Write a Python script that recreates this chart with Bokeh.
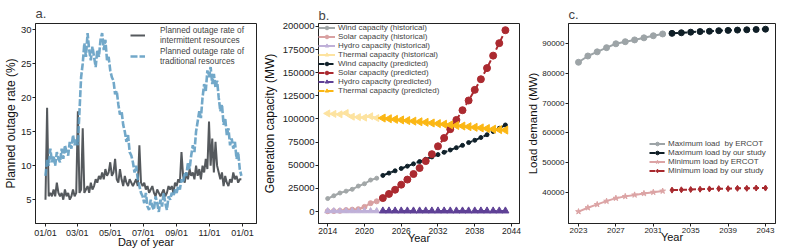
import math
from bokeh.plotting import figure
from bokeh.models import FixedTicker, Legend, LegendItem, Range1d, BasicTickFormatter
from bokeh.layouts import row
from bokeh.embed import file_html
from bokeh.resources import INLINE

FONT = "Liberation Sans"

# ---------------- Panel a data (every 3rd day of the year) ----------------
days_a = list(range(0, 366, 3))
intermittent = [
    5, 18.5, 5.5, 6, 5.5, 6.5, 5.5, 7.5, 6, 5.5, 6, 5, 6.5, 5.5, 6, 5, 5.5, 6.5, 5.5, 6,
    18, 6, 6.5, 15.5,
    6, 6.5, 7, 6, 7.5, 6.5, 7, 8, 7.5, 8.5, 8, 9, 8, 9.5, 8.5,
    9, 10.5, 8.5, 9, 11, 8, 7.5, 9.5, 8, 7, 8.5, 7.5, 7, 8, 7.5,
    7, 7.5, 8, 7, 13, 7.5, 7,
    7.5, 6.5, 7, 6, 6.5, 7, 6, 5.5, 6.5, 6, 5.5, 6, 6.5, 5.5, 6, 7, 6.5, 7, 6, 7.5, 7,
    8, 7.5, 12, 8.5, 7.5, 9, 8, 9.5, 8.5,
    9, 8, 10, 8.5, 9.5, 8, 10, 9, 11, 9.5,
    16.5, 10, 14, 9, 13.5, 10, 9,
    8, 9, 7, 8.5, 7.5, 7, 8, 7.5, 9, 8, 8.5, 7.5, 8, 8,
]
traditional = [
    8.5, 11, 10, 12.5, 10.5, 11.5, 10, 12, 11, 10.5, 12.5, 11, 13, 12, 11.5, 13.5, 12.5, 14.5, 13, 14,
    13, 18, 23, 25,
    28, 26, 29.5, 27, 25.5, 27.5, 26, 24.5, 27, 26, 28.5, 29.5, 27, 28.5, 25.5,
    26, 24, 23, 22.5, 20.5, 21, 19, 17.5, 18, 16, 15, 13.5, 14.5, 12, 11.5,
    10.5, 9, 10, 8, 7, 6, 5.5,
    4.5, 6, 4, 3.5, 5, 4, 3.5, 5.5, 4.5, 3.2, 5, 4, 6, 4.5, 3.5, 5.5, 5, 6, 5.5, 6.5, 6,
    7, 6.5, 8, 7.5, 9, 8.5, 10.5, 9.5, 11.5,
    13, 12, 15, 16.5, 18, 17, 20, 22, 21, 24,
    23, 24.5, 22, 23.5, 21.5, 22.5, 20,
    18, 19, 16, 17, 14.5, 15.5, 13, 14, 12.5, 13.5, 11, 12, 9.5, 8.5,
]
a_ticks = [0, 59, 120, 181, 243, 304, 365]
a_tick_labels = ["01/01", "03/01", "05/01", "07/01", "09/01", "11/01", "01/01"]

# ---------------- Panel b data ----------------
years_hist = [2014, 2015, 2016, 2017, 2018, 2019, 2020, 2021, 2022]
wind_hist = [14000, 17000, 20000, 22000, 24000, 27500, 30000, 34000, 36000]
solar_hist = [300, 500, 700, 1500, 2000, 2500, 5000, 9000, 11000]
hydro_hist = [500, 500, 500, 500, 500, 500, 500, 500, 500]
thermal_hist = [106000, 105500, 105000, 106500, 102500, 102000, 101500, 103000, 101000]

years_pred = list(range(2023, 2044))
wind_pred = [39000, 41500, 44000, 46500, 49000, 51500, 54000, 56500, 59000, 61500, 64000,
             66500, 69000, 71500, 74500, 77000, 80000, 83000, 86500, 90000, 93500]
solar_pred = [14500, 19000, 23500, 29000, 34500, 40500, 47000, 54500, 62000, 70500, 79500,
              89000, 99000, 109500, 120000, 131500, 143000, 155000, 168500, 182000, 196000]
hydro_pred = [600] * 21
thermal_pred = [101000, 100300, 99600, 99000, 98300, 97700, 97000, 96400, 95700, 95000, 94400,
                93700, 93000, 92400, 91700, 91000, 90400, 89700, 89000, 88500, 88000]

# ---------------- Panel c data ----------------
years_ercot = list(range(2023, 2033))
years_study = list(range(2033, 2044))
max_ercot = [83700, 85800, 87200, 88600, 89900, 90600, 91200, 91900, 92600, 93200]
max_study = [93400, 93600, 93800, 94000, 94100, 94300, 94400, 94500, 94600, 94700, 94800]
min_ercot = [33600, 34900, 36000, 37100, 38100, 38700, 39200, 39700, 40100, 40500]
min_study = [40800, 40900, 41000, 41100, 41200, 41300, 41300, 41400, 41400, 41500, 41500]


def style(p, xtick, ytick, xlab, ylab, title_standoff):
    p.outline_line_color = "#222222"
    p.outline_line_width = 1
    p.xgrid.visible = False
    p.ygrid.visible = False
    p.background_fill_color = "white"
    p.border_fill_color = "white"
    for ax, ts, ls in ((p.xaxis[0], xtick, xlab), (p.yaxis[0], ytick, ylab)):
        ax.axis_line_color = "#222222"
        ax.major_tick_out = 3
        ax.major_tick_in = 0
        ax.major_tick_line_color = "#222222"
        ax.minor_tick_line_color = None
        ax.major_label_text_font = FONT
        ax.major_label_text_font_size = ts
        ax.major_label_text_color = "#222222"
        ax.axis_label_text_font = FONT
        ax.axis_label_text_font_size = ls
        ax.axis_label_text_font_style = "normal"
        ax.axis_label_text_color = "#111111"
    p.xaxis.major_label_standoff = 1
    p.xaxis.axis_label_standoff = -5
    p.yaxis.major_label_standoff = 1
    p.title.text_font = FONT
    p.title.text_font_size = "13px"
    p.title.text_font_style = "normal"
    p.title.align = "left"
    p.title.standoff = title_standoff


FH = 200

# ---------------- Panel a ----------------
pa = figure(frame_width=221, frame_height=FH, output_backend="svg", toolbar_location=None,
            x_range=Range1d(-18.5, 391), y_range=Range1d(1.5, 30.9), title="a.",
            min_border_left=30, min_border_right=3, min_border_top=0, min_border_bottom=0)
ra1 = pa.line(days_a, intermittent, line_color="#55595d", line_width=2)
ra2 = pa.line(days_a, traditional, line_color="#5e9cc2", line_width=2.6, line_alpha=0.88,
              line_dash="7 2")
pa.xaxis.ticker = FixedTicker(ticks=a_ticks)
pa.xaxis.major_label_overrides = {t: l for t, l in zip(a_ticks, a_tick_labels)}
pa.yaxis.ticker = FixedTicker(ticks=[5, 10, 15, 20, 25, 30])
pa.xaxis.axis_label = "Day of year"
pa.yaxis.axis_label = "Planned outage rate (%)"
style(pa, "9px", "9.5px", "11px", "12px", 6)
pa.yaxis.axis_label_standoff = 0
leg_a = Legend(items=[
    LegendItem(label="Planned outage rate of\nintermittent resources", renderers=[ra1]),
    LegendItem(label="Planned outage rate of\ntraditional resources", renderers=[ra2]),
], location=(95, FH - 43), padding=0, margin=0, spacing=0, border_line_color=None,
    background_fill_alpha=0, label_text_font=FONT, label_text_font_size="8.3px",
    glyph_width=15, label_standoff=15, label_height=21, label_text_line_height=1.25)
pa.add_layout(leg_a)

# ---------------- Panel b ----------------
pb = figure(frame_width=201, frame_height=FH, output_backend="svg", toolbar_location=None,
            x_range=Range1d(2012.5, 2045.3), y_range=Range1d(-12970, 203240), title="b.",
            min_border_left=57, min_border_right=5, min_border_top=0, min_border_bottom=0)
series_b = [
    ("Wind capacity (historical)", years_hist, wind_hist, "#a2a7a8", "solid", "circle", 4),
    ("Solar capacity (historical)", years_hist, solar_hist, "#d9a1a2", "solid", "circle", 5),
    ("Hydro capacity (historical)", years_hist, hydro_hist, "#bfb0d8", "solid", "triangle", 6),
    ("Thermal capacity (historical)", years_hist, thermal_hist, "#fde3a0", "solid", "tri_left", 7),
    ("Wind capacity (predicted)", years_pred, wind_pred, "#10212a", "dashed", "circle", 4),
    ("Solar capacity (predicted)", years_pred, solar_pred, "#ab2a30", "dashed", "circle", 7),
    ("Hydro capacity (predicted)", years_pred, hydro_pred, "#5f4196", "dashed", "triangle", 7),
    ("Thermal capacity (predicted)", years_pred, thermal_pred, "#fbb714", "dashed", "tri_left", 8),
]
items_b = []
for name, xs, ys, col, dash, mk, sz in series_b:
    ln = pb.line(xs, ys, line_color=col, line_width=2, line_dash=("6 3" if dash == "dashed" else "solid"))
    if mk == "tri_left":
        sc = pb.scatter(xs, ys, marker="triangle", angle=math.pi / 2, size=sz,
                        fill_color=col, line_color=col)
    else:
        sc = pb.scatter(xs, ys, marker=mk, size=sz, fill_color=col, line_color=col)
    items_b.append(LegendItem(label=name, renderers=[ln, sc]))
pb.xaxis.ticker = FixedTicker(ticks=[2014, 2020, 2026, 2032, 2038, 2044])
pb.yaxis.ticker = FixedTicker(ticks=[0, 25000, 50000, 75000, 100000, 125000, 150000, 175000, 200000])
pb.yaxis.formatter = BasicTickFormatter(use_scientific=False)
pb.xaxis.axis_label = "Year"
pb.yaxis.axis_label = "Generation capacity (MW)"
style(pb, "8.5px", "9.5px", "11px", "12px", 2)
pb.yaxis.axis_label_standoff = 3
leg_b = Legend(items=items_b, location="top_left", padding=1, margin=0, spacing=0,
               border_line_color=None, background_fill_alpha=0, label_text_font=FONT,
               label_text_font_size="8px", glyph_width=17, glyph_height=9, label_height=9,
               label_standoff=3)
pb.add_layout(leg_b)

# ---------------- Panel c ----------------
pc = figure(frame_width=207, frame_height=FH, output_backend="svg", toolbar_location=None,
            x_range=Range1d(2021.93, 2044.07), y_range=Range1d(29600, 96710), title="c.",
            min_border_left=40, min_border_right=6, min_border_top=0, min_border_bottom=0)
series_c = [
    ("Maximum load  by ERCOT", years_ercot, max_ercot, "#9da4a7", "solid", "circle", 6),
    ("Maximum load by our study", years_study, max_study, "#0f1e26", "dashed", "circle", 6),
    ("Minimum load by ERCOT", years_ercot, min_ercot, "#dca4a5", "solid", "star", 6),
    ("Minimum load by our study", years_study, min_study, "#a8292e", "dashed", "diamond", 6),
]
items_c = []
for name, xs, ys, col, dash, mk, sz in series_c:
    ln = pc.line(xs, ys, line_color=col, line_width=2, line_dash=("6 3" if dash == "dashed" else "solid"))
    sc = pc.scatter(xs, ys, marker=mk, size=sz, fill_color=col, line_color=col)
    items_c.append(LegendItem(label=name, renderers=[ln, sc]))
pc.xaxis.ticker = FixedTicker(ticks=[2023, 2027, 2031, 2035, 2039, 2043])
pc.yaxis.ticker = FixedTicker(ticks=[40000, 50000, 60000, 70000, 80000, 90000])
pc.yaxis.formatter = BasicTickFormatter(use_scientific=False)
pc.xaxis.axis_label = "Year"
pc.yaxis.axis_label = "Load demand (MW)"
style(pc, "8px", "8px", "11px", "11.5px", 4)
pc.yaxis.axis_label_standoff = 0
leg_c = Legend(items=items_c, location=(81, 48), padding=0, margin=0, spacing=0,
               border_line_color=None, background_fill_alpha=0, label_text_font=FONT,
               label_text_font_size="8px", glyph_width=16, glyph_height=9, label_height=9,
               label_standoff=3)
pc.add_layout(leg_c)

layout = row(pa, pb, pc, spacing=0)
open("out.html", "w").write(file_html(layout, INLINE))
